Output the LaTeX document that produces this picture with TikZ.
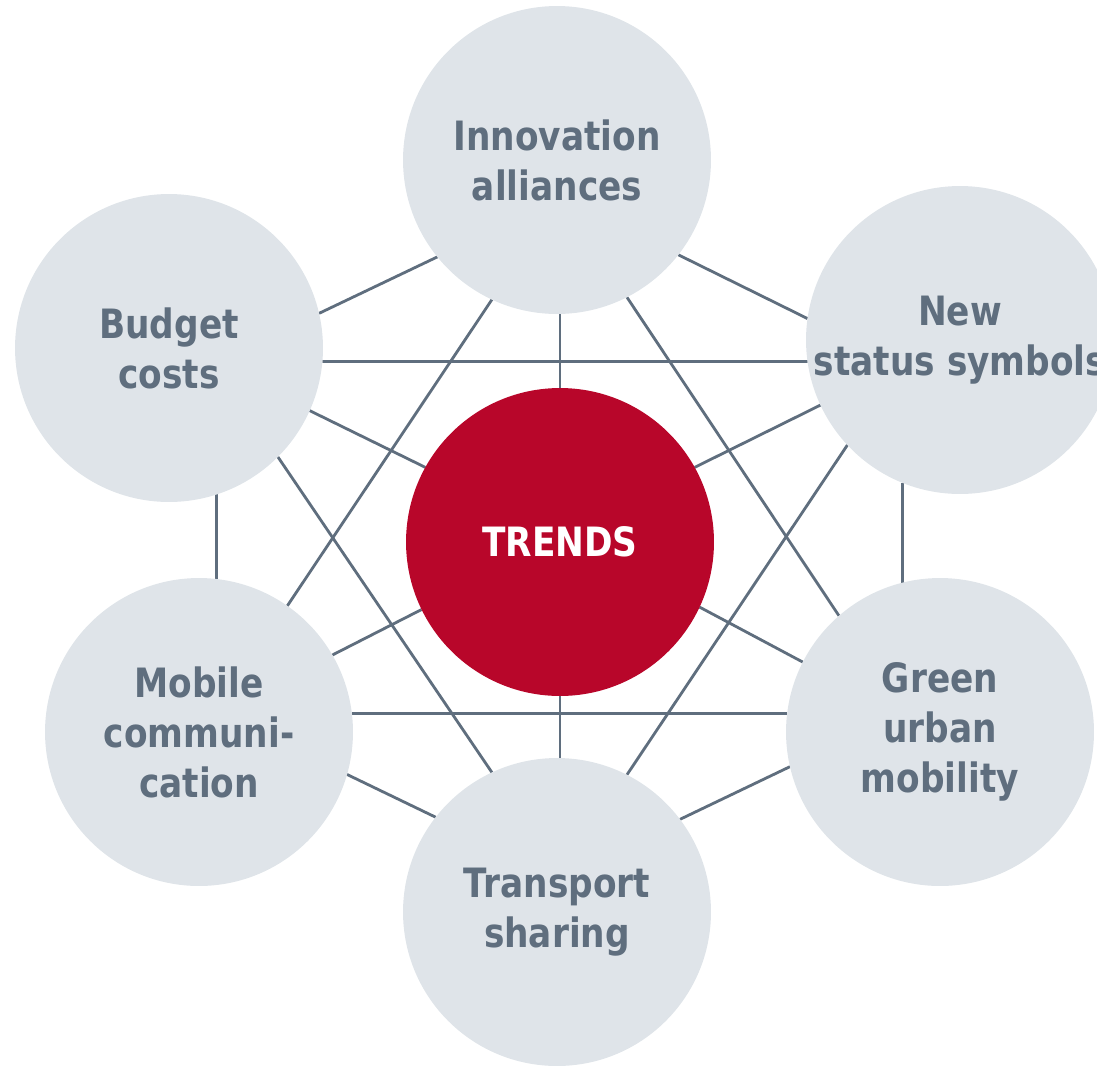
\documentclass[tikz,border=0pt]{standalone}
\usepackage{fontspec}
\setmainfont{DejaVu Sans}[FakeStretch=0.85]
\usepackage{tikz}
\usetikzlibrary{backgrounds}
\definecolor{bubblegray}{RGB}{223,228,233}
\definecolor{slate}{RGB}{95,110,126}
\definecolor{trendred}{RGB}{184,6,42}

\begin{document}
\begin{tikzpicture}[x=0.02cm,y=-0.02cm,
    bubble/.style={circle,fill=bubblegray,minimum size=6.16cm,inner sep=0pt,outer sep=0pt,
      align=center,text=slate,font=\bfseries\fontsize{23}{28.5}\selectfont},
    link/.style={draw=slate,line width=1.6pt}]
  \useasboundingbox (0,0) rectangle (1097,1065);
  % ring of topics
  \node[bubble] (innov) at (557,160) {Innovation\\alliances};
  \node[bubble] (status) at (960,340) {New\\status symbols};
  \node[bubble] (green) at (940,732) {Green\\urban\\mobility};
  \node[bubble] (transport) at (557,912) {Transport\\sharing};
  \node[bubble] (mobile) at (199,732) {Mobile\\communi-\\cation};
  \node[bubble] (budget) at (169,348) {Budget\\costs};
  % hub
  \node[bubble,fill=trendred,text=white] (trends) at (560,542) {TRENDS};
  % links, kept behind the bubbles
  \begin{pgfonlayer}{background}
    \draw[link] (innov.-38) -- (status.172);
    \draw[link] (innov.219) -- (budget.13);
    \draw[link] (trends.north |- innov.south) -- (trends.north);
    \draw[link] (innov.-63) -- (green.131);
    \draw[link] (innov.245) -- (mobile.55);
    \draw[link] (budget.-5) -- (status.188);
    \draw[link] (budget.-24) -- (trends.151);
    \draw[link] (budget.-45) -- (transport.115);
    \draw[link] (budget.-72) -- (budget.-72 |- mobile.84);
    \draw[link] (status.205) -- (trends.29);
    \draw[link] (status.223) -- (transport.63);
    \draw[link] (status.248) -- (status.248 |- green.104);
    \draw[link] (mobile.30) -- (trends.206);
    \draw[link] (mobile.7) -- (green.173);
    \draw[link] (mobile.-16) -- (transport.142);
    \draw[link] (green.153) -- (trends.-25);
    \draw[link] (green.193) -- (transport.37);
    \draw[link] (trends.south |- transport.north) -- (trends.south);
  \end{pgfonlayer}
\end{tikzpicture}
\end{document}
